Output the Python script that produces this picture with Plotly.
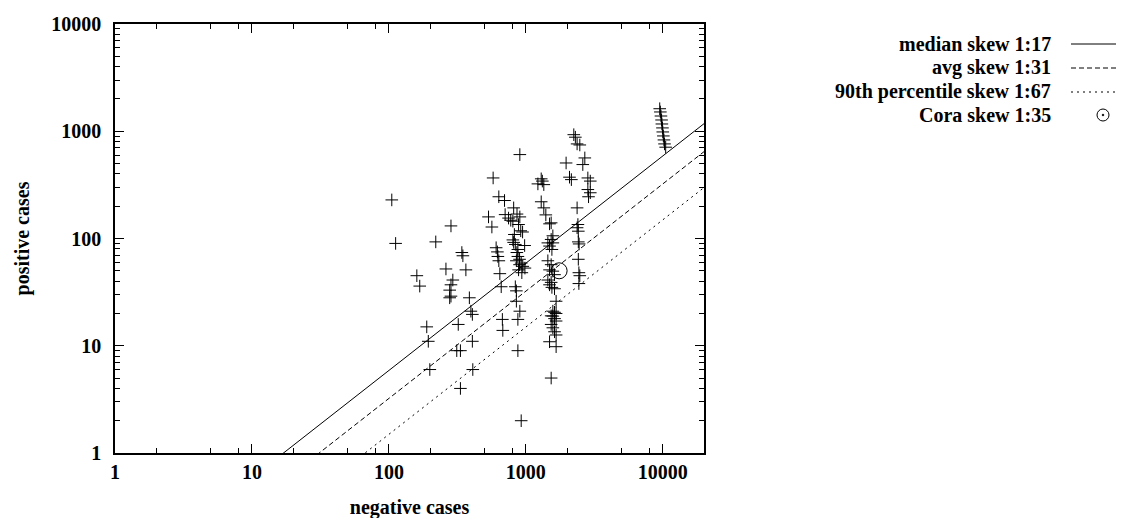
import plotly.graph_objects as go

# ---------------- data ----------------
neg_cases = [
    105, 112, 160, 168, 189, 194, 199, 220, 261, 284, 341, 347, 365, 293, 284, 278, 284, 278,
    387, 397, 407, 321, 313, 333, 407, 410, 333,
    577, 904, 534, 565, 635, 699,
    706, 748, 776, 815, 862, 904, 804, 885, 918, 947, 825, 804, 815, 838, 980, 875, 860, 875,
    900, 925, 950, 985, 885, 935, 853, 900,
    607, 620, 625, 635, 646, 661, 838, 853, 853, 904, 674, 875, 679, 875, 925,
    1225, 1320, 1295, 1353, 1295, 1353, 1400, 1490, 1531, 1575, 1531, 1448, 1490, 1575, 1550,
    1448, 1531, 1490, 1575, 1620, 1448, 1531, 1490, 1550, 1620, 1664,
    1575, 1620, 1664, 1531, 1575, 1620, 1664, 1531, 1575, 1620, 1664, 1490, 1664, 1531,
    2240, 2300, 2368, 2478, 1968, 2696, 2606, 2084, 2150, 2837, 2956, 2837, 2956, 2870,
    2368, 2400, 2368, 2417, 2417, 2450, 2417, 2440, 2478, 2440,
    9500, 9600, 9700, 9800, 9850, 9950, 10000, 10100, 10200, 10300, 10500,
]
pos_cases = [
    229, 90, 45, 36, 15, 11, 6, 93, 52, 131, 74, 69, 51, 41, 37, 33, 29, 28,
    28, 21, 19.6, 15.8, 9, 9, 11, 6, 4,
    367, 606, 159, 128, 245, 226,
    167, 155, 148, 193, 169, 159, 145, 135, 118, 115, 109, 97, 92, 88, 86, 79, 74, 68,
    64, 59, 55, 53, 51, 48, 62, 57,
    82, 75, 68, 62, 47, 35.5, 35.5, 32.5, 26, 21, 17.6, 17.6, 13.9, 9, 2,
    323, 343, 360, 318, 220, 193, 166, 137, 140, 106, 98, 91, 85, 91, 79,
    62, 57, 51, 49.6, 46, 41, 39, 37, 35, 34, 26,
    21, 20.5, 20, 19, 18.9, 17.9, 17, 15.8, 14.7, 13.5, 12.6, 10.9, 9.8, 5,
    929, 880, 762, 745, 506, 564, 489, 373, 354, 367, 343, 286, 267, 245,
    193, 135, 126, 117, 93, 89, 64, 48, 45, 38,
    1622, 1513, 1387, 1274, 1169, 1074, 985, 904, 830, 762, 710,
]
cora_neg = [1750]
cora_pos = [50]
skew_ratios = [17, 31, 67]
skew_names = ["median skew 1:17", "avg skew 1:31", "90th percentile skew 1:67"]
cora_name = "Cora skew 1:35"
x_range = [1, 20000]
y_range = [1, 10000]
tick_vals = [1, 10, 100, 1000, 10000]
tick_text = ["1", "10", "100", "1000", "10000"]

# ---------------- figure ----------------
FONT = "Liberation Serif"
FS = 20
W, H = 1124, 518
L, R, T, B = 107, 696, 16, 445  # plot area pixel bounds

dashes = ["solid", "5px,3px", "2px,4px"]

fig = go.Figure()
for ratio, name, dash in zip(skew_ratios, skew_names, dashes):
    fig.add_trace(go.Scatter(
        x=x_range, y=[v / ratio for v in x_range], mode="lines", name=name,
        line=dict(color="black", width=1, dash=dash), showlegend=False,
        hoverinfo="skip"))

fig.add_trace(go.Scatter(
    x=neg_cases, y=pos_cases, mode="markers", name="datasets",
    marker=dict(symbol="cross-thin-open", size=9, color="black",
                line=dict(color="black", width=1)),
    showlegend=False))

fig.add_trace(go.Scatter(
    x=cora_neg, y=cora_pos, mode="markers", name=cora_name,
    marker=dict(symbol="circle-open", size=16, color="black",
                line=dict(color="black", width=1)),
    showlegend=False))

minor_x = [m * 10 ** k for k in range(5) for m in (2, 5, 8) if m * 10 ** k <= 20000]
minor_y = [m * 10 ** k for k in range(4) for m in range(2, 10)]

axis_common = dict(
    type="log", showgrid=False, zeroline=False, showline=True, linecolor="black",
    linewidth=1.5, mirror="allticks", ticks="inside", ticklen=9, tickwidth=1,
    tickcolor="black", tickvals=tick_vals, ticktext=tick_text,
    tickfont=dict(family=FONT, size=FS, color="black", weight="bold"),
    title_font=dict(family=FONT, size=FS, color="black", weight="bold"),
)

fig.update_xaxes(**axis_common, range=[0, 4.30103],
                 minor=dict(tickvals=minor_x, ticks="inside", ticklen=5,
                            tickcolor="black", tickwidth=1),
                 title_text="negative cases", title_standoff=18)
fig.update_yaxes(**axis_common, range=[0, 4],
                 minor=dict(tickvals=minor_y, ticks="inside", ticklen=5,
                            tickcolor="black", tickwidth=1),
                 ticklabelstandoff=8,
                 title_text="positive cases", title_standoff=16)


def px_x(px):
    return (px - L) / (R - L)


def px_y(py):
    return (B - py) / (B - T)


# manual key (text on the left, sample on the right, as in the original)
rows = [36, 60, 84, 107]
labels = skew_names + [cora_name]
for i, (yy, lab) in enumerate(zip(rows, labels)):
    fig.add_annotation(x=px_x(1045), y=px_y(yy), xref="paper", yref="paper",
                       text="<b>" + lab + "</b>", showarrow=False,
                       xanchor="right", yanchor="middle",
                       font=dict(family=FONT, size=FS, color="black"))
    if i < 3:
        fig.add_shape(type="line", xref="paper", yref="paper",
                      x0=px_x(1063), x1=px_x(1120), y0=px_y(yy), y1=px_y(yy),
                      line=dict(color="black", width=1, dash=dashes[i]))

cx, cy, r = 1095, rows[3], 6
fig.add_shape(type="circle", xref="paper", yref="paper",
              x0=px_x(cx - r), x1=px_x(cx + r), y0=px_y(cy + r), y1=px_y(cy - r),
              line=dict(color="black", width=1))
fig.add_shape(type="circle", xref="paper", yref="paper",
              x0=px_x(cx - 0.8), x1=px_x(cx + 0.8), y0=px_y(cy + 0.8), y1=px_y(cy - 0.8),
              line=dict(color="black", width=1), fillcolor="black")

fig.update_layout(
    width=W, height=H, autosize=False,
    margin=dict(l=L, r=W - R, t=T, b=H - B, autoexpand=False),
    plot_bgcolor="white", paper_bgcolor="white",
    font=dict(family=FONT, size=FS, color="black"),
)

fig.write_html("out.html")
